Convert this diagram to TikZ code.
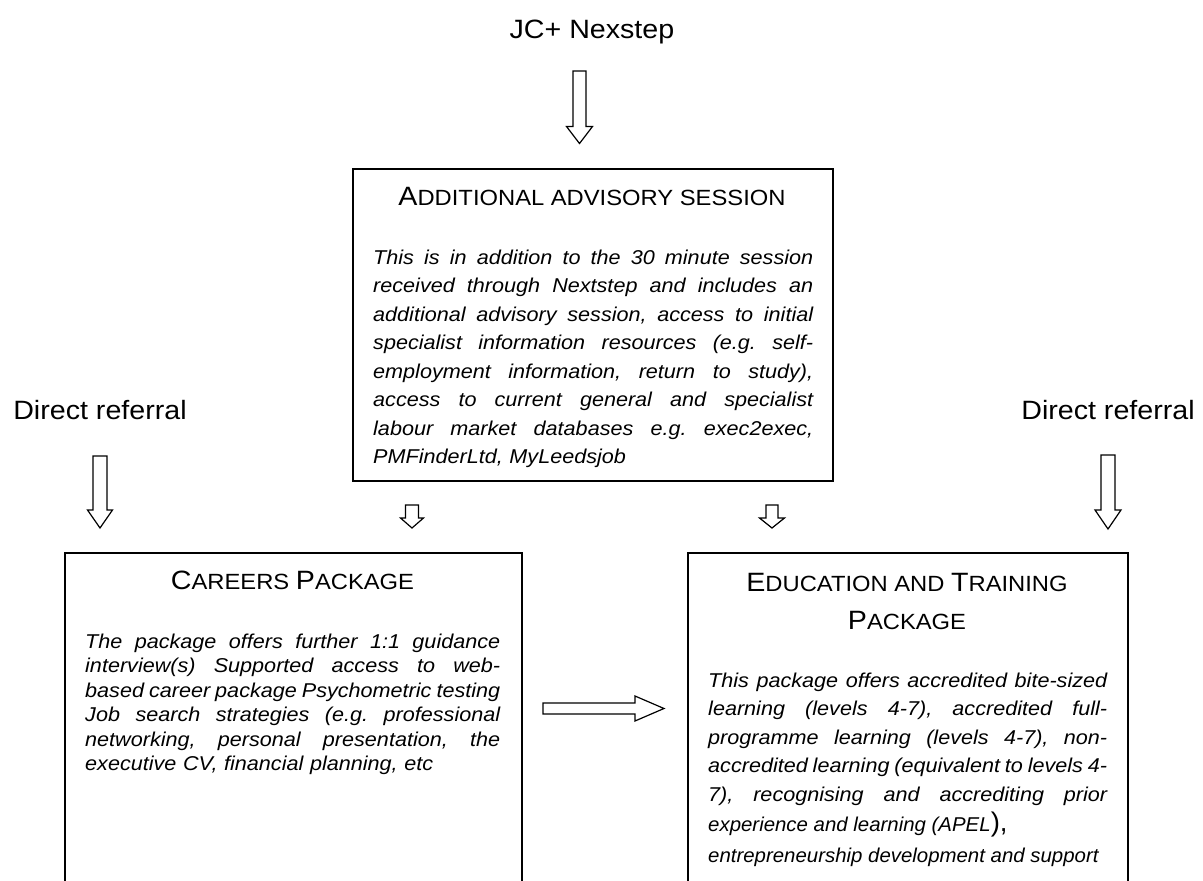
\documentclass[tikz,border=0pt]{standalone}
\usepackage{graphicx}
\usepackage{fontspec}
\setmainfont{Liberation Sans}[FakeStretch=1.08]
\newcommand\bigsmall[2]{{\fontsize{26.5}{30}\selectfont #1}{\fontsize{22}{30}\selectfont #2}}
\newcommand\jl[2]{\makebox[#1][s]{\spaceskip=0pt\xspaceskip=0pt\relax #2}}
\newcommand\narrowline[1]{\scalebox{0.945}[1]{\spaceskip=0pt\xspaceskip=0pt\relax #1}}
\newcommand\blockdown[6]{\draw[blockarrow] (#1-#5,#2) -- (#1+#5,#2) -- (#1+#5,#3) -- (#1+#6,#3) -- (#1,#4) -- (#1-#6,#3) -- (#1-#5,#3) -- cycle;}
\tikzset{
  boxnode/.style={draw, line width=1.5pt, inner sep=0pt, anchor=north west},
  blockarrow/.style={draw, line width=1.2pt, line join=miter},
  lbltext/.style={font=\fontsize{26.5}{30}\selectfont, anchor=base, inner sep=0pt},
  headtxt/.style={anchor=base, inner sep=0pt},
  bodytxt/.style={anchor=north west, inner sep=0pt, align=left}
}
\begin{document}
\begin{tikzpicture}[x=1pt,y=-1pt]
\useasboundingbox (0,0) rectangle (1203,881);

% labels
\node[lbltext] (jc) at (592,38) {JC+ Nexstep};
\node[lbltext] (drl) at (100,419) {Direct referral};
\node[lbltext] (drr) at (1108,419) {Direct referral};

% boxes
\node[boxnode, minimum width=480pt, minimum height=312pt] (adv) at (352,168) {};
\node[boxnode, minimum width=457pt, minimum height=360pt] (car) at (64,552) {};
\node[boxnode, minimum width=440pt, minimum height=360pt] (edu) at (687,552) {};

% headings
\node[headtxt] (advh) at (592,205) {\bigsmall{A}{DDITIONAL ADVISORY SESSION}};
\node[headtxt] (carh) at (292.5,589.5) {\bigsmall{C}{AREERS }\bigsmall{P}{ACKAGE}};
\node[headtxt] (eduh1) at (907,591.5) {\bigsmall{E}{DUCATION AND }\bigsmall{T}{RAINING}};
\node[headtxt] (eduh2) at (907,629.5) {\bigsmall{P}{ACKAGE}};

% body texts
\node[bodytxt, text width=440pt, font=\fontsize{20}{28.5}\selectfont\itshape\frenchspacing] (advb) at (373,244.05) {%
\strut\jl{440pt}{This is in addition to the 30 minute session}\\
\jl{440pt}{received through Nextstep and includes an}\\
\jl{440pt}{additional advisory session, access to initial}\\
\jl{440pt}{specialist information resources (e.g. self-}\\
\jl{440pt}{employment information, return to study),}\\
\jl{440pt}{access to current general and specialist}\\
\jl{440pt}{labour market databases e.g. exec2exec,}\\
\mbox{PMFinderLtd, MyLeedsjob}};

\node[bodytxt, text width=415pt, font=\fontsize{20}{24.5}\selectfont\itshape\frenchspacing] (carb) at (85,630.85) {%
\strut\jl{415pt}{The package offers further 1:1 guidance}\\
\jl{415pt}{interview(s) Supported access to web-}\\
\jl{415pt}{based career package Psychometric testing}\\
\jl{415pt}{Job search strategies (e.g. professional}\\
\jl{415pt}{networking, personal presentation, the}\\
\mbox{executive CV, financial planning, etc}};

\node[bodytxt, text width=399pt, font=\fontsize{20}{28.5}\selectfont\itshape\frenchspacing] (edub) at (708,667.05) {%
\strut\jl{399pt}{This package offers accredited bite-sized}\\
\jl{399pt}{learning (levels 4-7), accredited full-}\\
\jl{399pt}{programme learning (levels 4-7), non-}\\
\jl{399pt}{accredited learning (equivalent to levels 4-}\\
\jl{399pt}{7), recognising and accrediting prior}\\[2pt]
\narrowline{experience and learning (APEL{\upshape\fontsize{27}{28.5}\selectfont ),}}\\[2pt]
\narrowline{entrepreneurship development and support}};

% block arrows
\blockdown{579.5}{71}{126.5}{143.5}{6.5}{13}
\blockdown{100}{456}{510}{528}{7}{12.5}
\blockdown{1108}{455}{510}{529}{7}{13}
\blockdown{412}{505}{518}{528}{6.5}{11.5}
\blockdown{772}{505}{518}{528}{6}{12.5}
\draw[blockarrow] (543,703) -- (635,703) -- (635,696) -- (664,708.5) -- (635,721) -- (635,714) -- (543,714) -- cycle;
\end{tikzpicture}
\end{document}
